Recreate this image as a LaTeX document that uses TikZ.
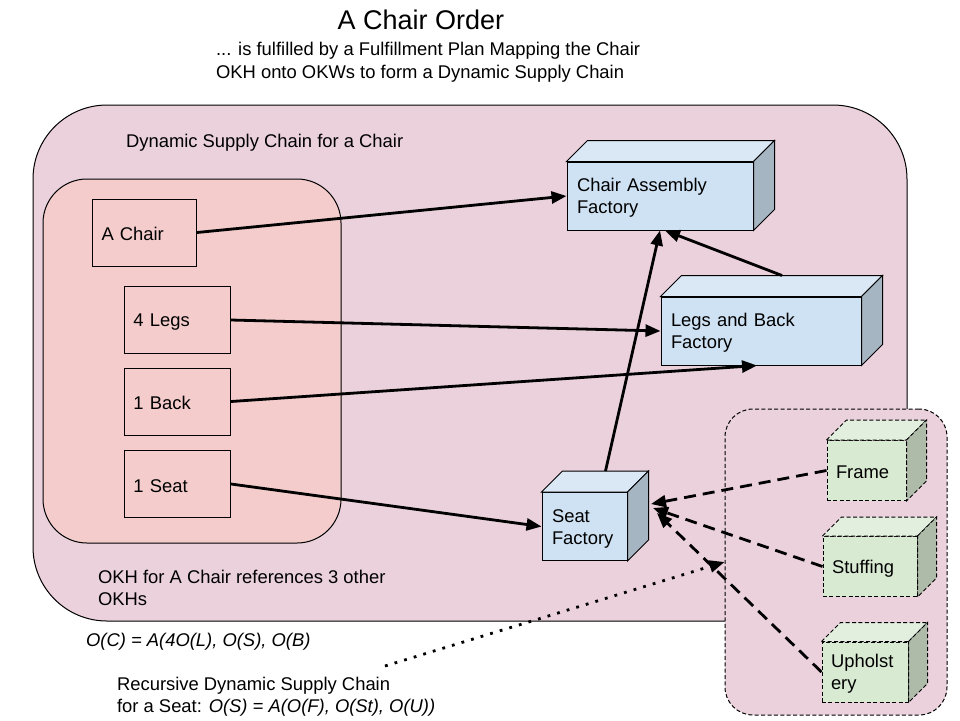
\documentclass[tikz,border=0pt]{standalone}
\usepackage{fontspec}
\setmainfont{Liberation Sans}
\usetikzlibrary{arrows.meta}

\definecolor{chainpink}{HTML}{EAD1DC}
\definecolor{okhred}{HTML}{F4CCCC}
\definecolor{okwblue}{HTML}{CFE2F3}
\definecolor{okwbluetop}{HTML}{DAE7F5}
\definecolor{okwblueside}{HTML}{A5B5C2}
\definecolor{subgreen}{HTML}{D9EAD3}
\definecolor{subgreentop}{HTML}{E2EEDE}
\definecolor{subgreenside}{HTML}{AEBBA9}

% top and side faces of a factory cube: node, depth, top, side, line
\newcommand{\cubefaces}[5]{%
  \filldraw[fill=#3,#5] (#1.north west) -- ([shift={(#2,-#2)}]#1.north west)
    -- ([shift={(#2,-#2)}]#1.north east) -- (#1.north east) -- cycle;
  \filldraw[fill=#4,#5] (#1.north east) -- ([shift={(#2,-#2)}]#1.north east)
    -- ([shift={(#2,-#2)}]#1.south east) -- (#1.south east) -- cycle;
}

\begin{document}
\begin{tikzpicture}[x=0.5pt,y=-0.5pt,
    every node/.style={font=\fontsize{9.2}{11}\selectfont},
    boxtext/.style={execute at begin node={\rule{0pt}{8.5pt}}},
    part/.style={boxtext, draw, fill=okhred, line width=0.5pt, minimum height=33.5pt,
      text width=44pt, inner xsep=4.5pt, align=left},
    factory/.style={boxtext, draw, fill=okwblue, line width=0.5pt, minimum height=34pt,
      inner xsep=5pt, align=left},
    subpart/.style={boxtext, draw, fill=subgreen, line width=0.5pt, dash pattern=on 2pt off 1.2pt,
      minimum height=30pt, inner xsep=4.5pt, align=left},
    flow/.style={line width=1.4pt, -{Triangle[length=7.5pt,width=6pt]}},
    subflow/.style={flow, dash pattern=on 6pt off 3.5pt},
    refflow/.style={flow, dash pattern=on 1.4pt off 3.6pt}]

  % Fondo
  \useasboundingbox[fill=white] (0,0) rectangle (960,720);

  % Titulo
  \node (title) at (421,20) {\fontsize{13.5}{16}\selectfont A Chair Order};
  \node[anchor=west, align=left, font=\fontsize{9.2}{11.5}\selectfont] (subtitle) at (209,62)
    {... is fulfilled by a Fulfillment Plan Mapping the Chair\\
     OKH onto OKWs to form a Dynamic Supply Chain};

  % Cadena de suministro
  \draw[fill=chainpink, line width=0.5pt, rounded corners=37pt] (33,105) rectangle (907,621);
  \node[anchor=west] (dsclabel) at (119,143) {Dynamic Supply Chain for a Chair};
  \draw[fill=okhred, line width=0.5pt, rounded corners=22pt] (43,179) rectangle (341,543);

  % OKH
  \node[part, text width=43pt] (chair) at (144.5,232.5) {A Chair};
  \node[part] (legs) at (177.5,320) {4 Legs};
  \node[part] (back) at (177.5,401.5) {1 Back};
  \node[part] (seat) at (177.5,484) {1 Seat};

  % Cadena recursiva del asiento
  \node[draw, fill=chainpink, line width=0.5pt, dash pattern=on 2pt off 1.2pt,
    rounded corners=14pt, minimum width=111pt, minimum height=153pt, inner sep=0pt]
    (seatchain) at (836,562) {};

  % Fabricas
  \node[factory, text width=83pt] (assembly) at (660,196) {Chair Assembly\\Factory};
  \cubefaces{assembly}{21}{okwbluetop}{okwblueside}{line width=0.5pt}
  \node[factory, text width=90pt] (legsback) at (761,331) {Legs and Back\\Factory};
  \cubefaces{legsback}{21}{okwbluetop}{okwblueside}{line width=0.5pt}
  \node[factory, text width=32.5pt] (seatfac) at (584.5,526.5) {Seat\\Factory};
  \cubefaces{seatfac}{21}{okwbluetop}{okwblueside}{line width=0.5pt}

  \node[subpart, text width=30.5pt] (frame) at (866.5,470.5) {Frame};
  \cubefaces{frame}{20}{subgreentop}{subgreenside}{line width=0.5pt, dash pattern=on 2pt off 1.2pt}
  \node[subpart, text width=38pt] (stuffing) at (870,566.5) {Stuffing};
  \cubefaces{stuffing}{19}{subgreentop}{subgreenside}{line width=0.5pt, dash pattern=on 2pt off 1.2pt}
  \node[subpart, text width=34pt] (upholstery) at (865,672) {Upholst\\ery};
  \cubefaces{upholstery}{19}{subgreentop}{subgreenside}{line width=0.5pt, dash pattern=on 2pt off 1.2pt}

  % Flechas
  \draw[flow] (chair.east) -- (assembly.west);
  \draw[flow] (legs.east) -- (legsback.west);
  \draw[flow] (back.east) -- ([xshift=-2pt]legsback.south);
  \draw[flow] (seat.east) -- (seatfac.west);
  \draw[flow] ([shift={(21,-21)}]seatfac.north) -- (assembly.south);
  \draw[flow] ([shift={(21,-21)}]legsback.north) -- ([xshift=2.5pt]assembly.south);

  \coordinate (seatin1) at (651,504);
  \coordinate (seatin2) at (653,508);
  \coordinate (seatin3) at (657,513);
  \draw[subflow] (frame.west) -- (seatin1);
  \draw[subflow] (stuffing.west) -- (seatin2);
  \draw[subflow] (upholstery.west) -- (seatin3);

  % Notas
  \node[anchor=west, align=left] (okhnote) at (91,587.5)
    {OKH for A Chair references 3 other\\OKHs};
  \node[anchor=west] (formula) at (79,642) {\itshape O(C) = A(4O(L), O(S), O(B)};
  \node[anchor=west, align=left] (recnote) at (110,697)
    {Recursive Dynamic Supply Chain\\for a Seat: \textit{O(S) = A(O(F), O(St), O(U))}};
  \coordinate (dotstart) at (385,666);
  \draw[refflow] (dotstart) -- (seatchain.west);
\end{tikzpicture}
\end{document}
